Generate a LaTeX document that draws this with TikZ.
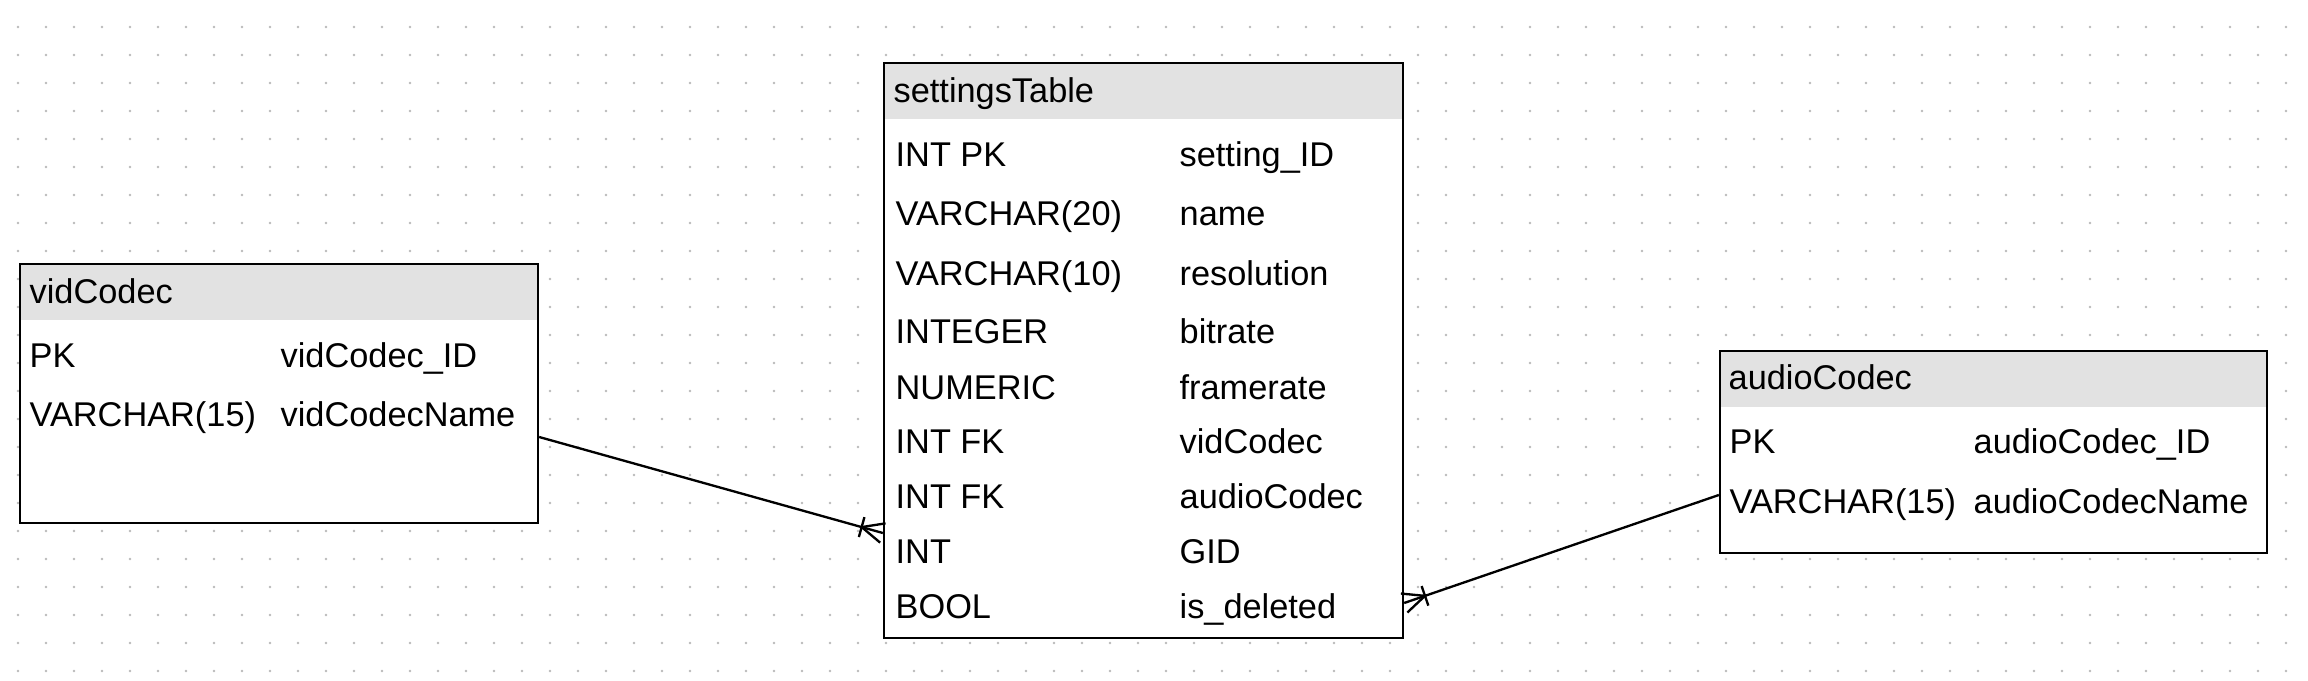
\documentclass[tikz,border=0pt]{standalone}
\usepackage{fontspec}
\setmainfont{Liberation Sans}
\usetikzlibrary{calc}
\definecolor{headgray}{RGB}{226,226,226}
\definecolor{dotgray}{RGB}{185,185,185}

\begin{document}
\begin{tikzpicture}[x=0.3pt,y=-0.3pt,
    entity/.style={draw, line width=0.7pt, fill=white, inner sep=0pt,
      path picture={\fill[headgray] (path picture bounding box.north west)
        rectangle ([yshift=-16.8pt]path picture bounding box.north east);}},
    field/.style={anchor=base west, inner sep=0pt, font=\fontsize{10.3}{12}\selectfont},
    rel/.style={line width=0.7pt}]
            \useasboundingbox (0,0) rectangle (2308,680);

            % Grid
            \foreach \i in {0,...,81}
              \foreach \j in {0,...,23}
                \fill[dotgray] (18+28*\i,27+28*\j) circle (0.4pt);

            % Tables
            \node[entity, minimum width=155.4pt, minimum height=77.7pt] (vid) at (279,393.5) {};
            \node[entity, minimum width=155.7pt, minimum height=172.5pt] (set) at (1143.5,350.5) {};
            \node[entity, minimum width=164.1pt, minimum height=60.6pt] (aud) at (1993.5,452) {};

            % Titles
            \node[field] (vidtitle) at (29,303) {vidCodec};
            \node[field] (settitle) at (893,102) {settingsTable};
            \node[field] (audtitle) at (1728,389) {audioCodec};

            % vidCodec fields
            \node[field] (vidtype1) at (29,367) {PK};
            \node[field] (vidname1) at (280,367) {vidCodec\_ID};
            \node[field] (vidtype2) at (29,426) {VARCHAR(15)};
            \node[field] (vidname2) at (280,426) {vidCodecName};

            % settingsTable fields
            \foreach \t/\f/\y [count=\i] in {INT PK/setting\_ID/166, VARCHAR(20)/name/225,
                VARCHAR(10)/resolution/285, INTEGER/bitrate/343, NUMERIC/framerate/399,
                INT FK/vidCodec/453, INT FK/audioCodec/508, INT/GID/563, BOOL/is\_deleted/618}
            {
                \node[field] (settype\i) at (895,\y) {\t};
                \node[field] (setname\i) at (1179,\y) {\f};
            }

            % audioCodec fields
            \node[field] (audtype1) at (1729,453) {PK};
            \node[field] (audname1) at (1973,453) {audioCodec\_ID};
            \node[field] (audtype2) at (1729,513) {VARCHAR(15)};
            \node[field] (audname2) at (1973,513) {audioCodecName};

            % Relations
            \coordinate (vidout) at ([yshift=-13.05pt]vid.east);
            \coordinate (setin) at ([yshift=-54.75pt]set.west);
            \coordinate (audin) at ([yshift=-12.9pt]aud.west);
            \coordinate (setout) at ([yshift=-75.75pt]set.east);

            \draw[rel] (vidout) -- (setin);
            \draw[rel] (audin) -- (setout);

            % crow's feet
            \coordinate (footl) at ($(setin)!6.6pt!(vidout)$);
            \draw[rel] ($(setin)!3pt!90:(vidout)$) -- (footl) -- ($(setin)!3pt!-90:(vidout)$);
            \draw[rel] ($(footl)!3.1pt!90:(vidout)$) -- ($(footl)!3.1pt!-90:(vidout)$);

            \coordinate (footr) at ($(setout)!6.6pt!(audin)$);
            \draw[rel] ($(setout)!3pt!90:(audin)$) -- (footr) -- ($(setout)!3pt!-90:(audin)$);
            \draw[rel] ($(footr)!3.1pt!90:(audin)$) -- ($(footr)!3.1pt!-90:(audin)$);

        \end{tikzpicture}
\end{document}
